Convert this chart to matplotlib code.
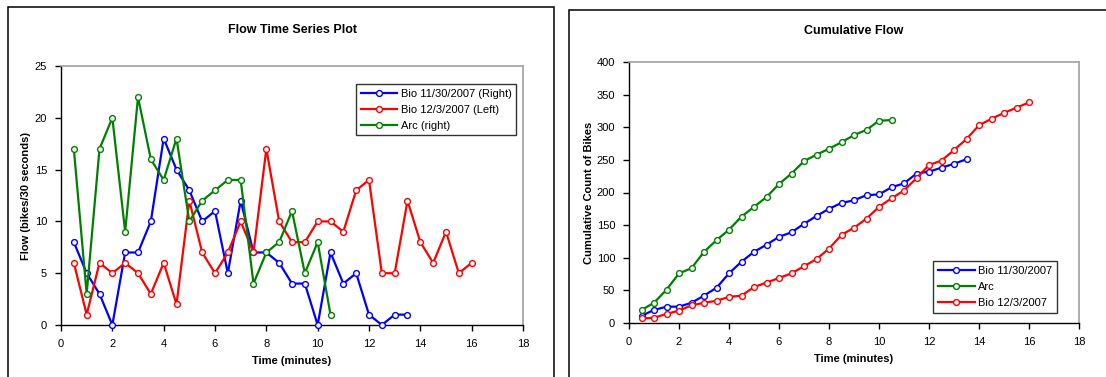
import numpy as np
import matplotlib
matplotlib.use("Agg")
import matplotlib.pyplot as plt
from matplotlib.patches import Rectangle

#### DATA
time_bio1 = [0.5, 1, 1.5, 2, 2.5, 3, 3.5, 4, 4.5, 5, 5.5, 6, 6.5, 7, 7.5, 8, 8.5, 9, 9.5, 10,
             10.5, 11, 11.5, 12, 12.5, 13, 13.5]
flow_bio1 = [8, 5, 3, 0, 7, 7, 10, 18, 15, 13, 10, 11, 5, 12, 7, 7, 6, 4, 4, 0,
             7, 4, 5, 1, 0, 1, 1]
cum_bio1 = [11, 20, 25, 25, 31, 42, 54, 76, 94, 109, 120, 132, 139, 152, 164, 175, 184, 188, 196, 197,
            208, 214, 229, 232, 238, 244, 251]

time_bio2 = [0.5, 1, 1.5, 2, 2.5, 3, 3.5, 4, 4.5, 5, 5.5, 6, 6.5, 7, 7.5, 8, 8.5, 9, 9.5, 10,
             10.5, 11, 11.5, 12, 12.5, 13, 13.5, 14, 14.5, 15, 15.5, 16]
flow_bio2 = [6, 1, 6, 5, 6, 5, 3, 6, 2, 12, 7, 5, 7, 10, 7, 17, 10, 8, 8, 10,
             10, 9, 13, 14, 5, 5, 12, 8, 6, 9, 5, 6]
cum_bio2 = [7, 8, 14, 19, 27, 31, 34, 40, 42, 55, 62, 69, 76, 87, 98, 114, 135, 146, 160, 178,
            191, 203, 222, 242, 249, 265, 282, 303, 313, 322, 330, 338]

time_arc = [0.5, 1, 1.5, 2, 2.5, 3, 3.5, 4, 4.5, 5, 5.5, 6, 6.5, 7, 7.5, 8, 8.5, 9, 9.5, 10, 10.5]
flow_arc = [17, 3, 17, 20, 9, 22, 16, 14, 18, 10, 12, 13, 14, 14, 4, 7, 8, 11, 5, 8, 1]
cum_arc = [20, 31, 51, 76, 84, 109, 127, 143, 163, 178, 193, 213, 229, 248, 258, 267, 277, 288, 296, 310, 311]

BLUE = "#0000ff"
RED = "#ff0000"
GREEN = "#008000"

plt.rcParams["font.family"] = "Liberation Sans"
plt.rcParams["font.size"] = 8

W, H = 1106, 377
fig = plt.figure(figsize=(W / 100, H / 100), dpi=100)


def px_axes(x0, x1, ytop, ybot):
    return fig.add_axes([x0 / W, 1 - ybot / H, (x1 - x0) / W, (ybot - ytop) / H])


def style(ax, ymax, ystep):
    ax.set_xlim(0, 18)
    ax.set_ylim(0, ymax)
    ax.set_xticks(np.arange(0, 19, 2))
    ax.set_yticks(np.arange(0, ymax + 1, ystep))
    for s in ["top", "right"]:
        ax.spines[s].set_color("#a0a0a0")
        ax.spines[s].set_linewidth(1.2)
    for s in ["left", "bottom"]:
        ax.spines[s].set_color("black")
        ax.spines[s].set_linewidth(1)
    ax.tick_params(direction="out", length=4, width=1, labelsize=8, pad=6)
    ax.set_xlabel("Time (minutes)", fontweight="bold", fontsize=8, labelpad=5)


def series(ax, x, y, color, label):
    ax.plot(x, y, color=color, lw=1.6, marker="o", ms=4.2, mfc="white",
            mec=color, mew=1.0, label=label, clip_on=False, zorder=3)


#### PANEL FRAMES
fig.patches.append(Rectangle((8 / W, -0.1), 546 / W, 1.1 - 7 / H, transform=fig.transFigure,
                             fill=False, ec="black", lw=1.1))
fig.patches.append(Rectangle((569 / W, -0.1), 0.5, 1.1 - 10.5 / H, transform=fig.transFigure,
                             fill=False, ec="black", lw=1.1))

#### LEFT: FLOW TIME SERIES
ax1 = px_axes(61, 523, 66, 325)
style(ax1, 25, 5)
series(ax1, time_bio1, flow_bio1, BLUE, "Bio 11/30/2007 (Right)")
series(ax1, time_bio2, flow_bio2, RED, "Bio 12/3/2007 (Left)")
series(ax1, time_arc, flow_arc, GREEN, "Arc (right)")
ax1.set_ylabel("Flow (bikes/30 seconds)", fontweight="bold", fontsize=8, labelpad=3)
ax1.set_title("Flow Time Series Plot", fontweight="bold", fontsize=9, pad=24)
leg1 = ax1.legend(loc="upper right", bbox_to_anchor=(0.985, 0.93), fontsize=8, frameon=True,
                  fancybox=False, edgecolor="black", handlelength=3.3, handletextpad=0.3,
                  borderpad=0.4, labelspacing=0.55, borderaxespad=0)
leg1.get_frame().set_linewidth(1)

#### RIGHT: CUMULATIVE FLOW
ax2 = px_axes(629, 1079, 62, 323)
style(ax2, 400, 50)
series(ax2, time_bio1, cum_bio1, BLUE, "Bio 11/30/2007")
series(ax2, time_arc, cum_arc, GREEN, "Arc")
series(ax2, time_bio2, cum_bio2, RED, "Bio 12/3/2007")
ax2.set_ylabel("Cumulative Count of Bikes", fontweight="bold", fontsize=8, labelpad=2)
ax2.set_title("Cumulative Flow", fontweight="bold", fontsize=9, pad=20)
leg2 = ax2.legend(loc="lower right", bbox_to_anchor=(0.95, 0.04), fontsize=8, frameon=True,
                  fancybox=False, edgecolor="black", handlelength=3.3, handletextpad=0.3,
                  borderpad=0.4, labelspacing=0.55, borderaxespad=0)
leg2.get_frame().set_linewidth(1)

fig.savefig("out.png", dpi=100)
